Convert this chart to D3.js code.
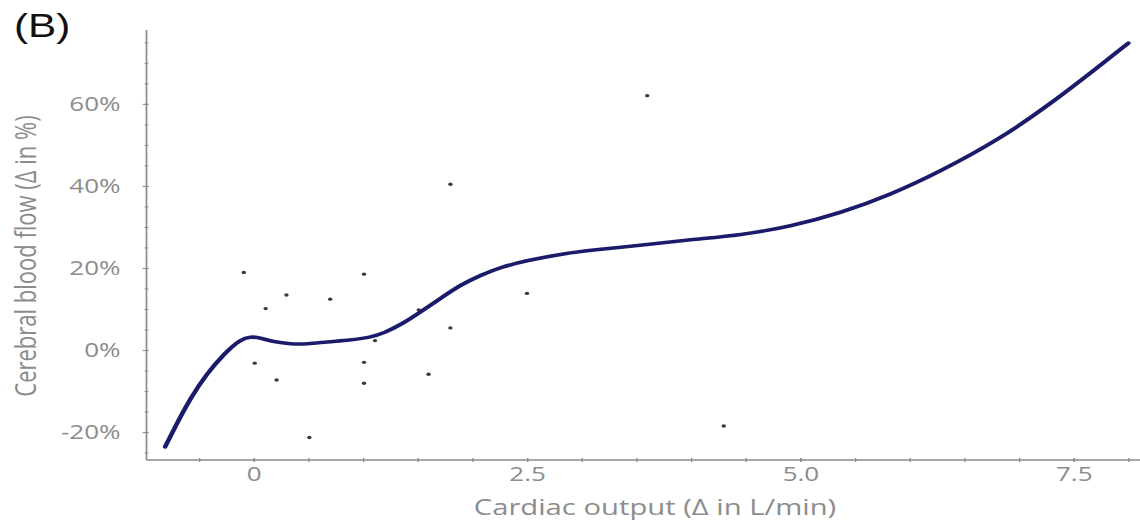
<!DOCTYPE html>
<html>
<head>
<meta charset="utf-8">
<script src="https://cdn.jsdelivr.net/npm/d3@7"></script>
<style>
  html, body { margin: 0; padding: 0; background: #fff; }
  svg { display: block; }
</style>
</head>
<body>
<svg id="chart" width="1140" height="523"></svg>
<script>
// ---- data ----
const panelLabel = "(B)";
const xTitle = "Cardiac output (\u0394 in L/min)";
const yTitle = "Cerebral blood flow (\u0394 in %)";

const xMajorTicks = [0, 2.5, 5.0, 7.5];
const xTickLabels = ["0", "2.5", "5.0", "7.5"];
const yMajorTicks = [-20, 0, 20, 40, 60];
const yTickLabels = ["-20%", "0%", "20%", "40%", "60%"];

// scatter observations (Δ cardiac output, Δ cerebral blood flow %)
const pointX = [-0.09, 1.01, 0.30, 0.11, 0.70, 1.11, 0.01, 0.21, 1.01, 1.01, 0.51, 1.51, 1.80, 2.50, 1.60, 4.30, 1.80, 3.60];
const pointY = [18.9, 18.5, 13.4, 10.1, 12.4, 2.3, -3.2, -7.3, -3.0, -8.1, -21.3, 9.8, 5.4, 13.8, -5.9, -18.5, 40.4, 62.0];

// fitted smooth curve
const curveX = [-0.81, -0.70, -0.58, -0.43, -0.26, -0.12, -0.03, 0.06, 0.18, 0.34, 0.49, 0.67, 0.88, 1.07, 1.19, 1.37, 1.53, 1.71, 1.89, 2.08, 2.26, 2.5, 2.81, 3.11, 3.42, 4.03, 4.45, 4.91, 5.37, 5.82, 6.28, 6.83, 7.29, 7.75, 8.0];
const curveY = [-23.6, -17.8, -11.8, -5.8, -0.6, 2.6, 3.3, 3.0, 2.0, 1.46, 1.46, 2.0, 2.4, 3.1, 4.1, 6.5, 9.35, 12.6, 15.85, 18.3, 20.2, 21.8, 23.4, 24.4, 25.2, 27.0, 28.0, 30.1, 33.4, 37.8, 43.5, 51.5, 60.0, 69.5, 74.8];

// ---- layout (the original figure is stretched horizontally) ----
const S = 1.3;                 // horizontal stretch
const W = 1140 / S, H = 523;
const svg = d3.select("#chart")
  .attr("viewBox", `0 0 ${W} ${H}`)
  .attr("preserveAspectRatio", "none");

const mLeft = 146.5 / S, mRight = 1139.2 / S;
const mTop = 30, mBottom = 460;

const x = d3.scaleLinear().domain([-0.98, 8.1]).range([mLeft, mRight]);
const y = d3.scaleLinear().domain([-26.8, 78]).range([mBottom, mTop]);

const axisColor = "#8a8a8a";
const textColor = "#8c8c8c";
const font = "'Open Sans', 'DejaVu Sans', sans-serif";

// ---- axes ----
const xAxis = svg.append("g").attr("transform", `translate(0,${mBottom})`)
  .call(d3.axisBottom(x).tickValues(xMajorTicks).tickFormat((d, i) => xTickLabels[i]).tickSize(3).tickPadding(4));
const xMinor = svg.append("g").attr("transform", `translate(0,${mBottom})`)
  .call(d3.axisBottom(x).tickValues(d3.range(-0.5, 8.01, 0.5)).tickFormat("").tickSize(2));
xMinor.select(".domain").remove();

const yAxis = svg.append("g").attr("transform", `translate(${mLeft},0)`)
  .call(d3.axisLeft(y).tickValues(yMajorTicks).tickFormat((d, i) => yTickLabels[i]).tickSize(3).tickPadding(17));
const yMinor = svg.append("g").attr("transform", `translate(${mLeft},0)`)
  .call(d3.axisLeft(y).tickValues(d3.range(-25, 76, 5)).tickFormat("").tickSize(2));
yMinor.select(".domain").remove();

xAxis.select(".domain").attr("stroke", axisColor).attr("stroke-width", 1.3).attr("d", `M${mLeft},0H${W}`);
yAxis.select(".domain").attr("stroke", axisColor).attr("stroke-width", 1.3).attr("d", `M0,${mTop}V${mBottom}`);
[xAxis, xMinor].forEach(g => g.selectAll(".tick line").attr("stroke", axisColor).attr("y1", -2).attr("y2", 2));
[yAxis, yMinor].forEach(g => g.selectAll(".tick line").attr("stroke", axisColor).attr("x1", 1.5));
yAxis.selectAll(".tick line").attr("x2", -3);
yMinor.selectAll(".tick line").attr("x2", -1.5);

xAxis.selectAll(".tick text").attr("fill", textColor).attr("font-family", font).attr("font-size", 20).attr("dy", "0.71em");
yAxis.selectAll(".tick text").attr("fill", textColor).attr("font-family", font).attr("font-size", 20);

// ---- titles ----
svg.append("text").attr("x", 655 / S).attr("y", 515)
  .attr("text-anchor", "middle").attr("fill", textColor)
  .attr("font-family", font).attr("font-size", 22.5).text(xTitle);

svg.append("text").attr("transform", `translate(${36 / S},${256}) rotate(-90)`)
  .attr("text-anchor", "middle").attr("fill", textColor)
  .attr("font-family", font).attr("font-size", 22).text(yTitle);

svg.append("text").attr("x", 14 / S).attr("y", 37)
  .attr("fill", "#111").attr("font-family", "'Liberation Sans', Arial, sans-serif")
  .attr("font-size", 32.5).text(panelLabel);

// ---- points ----
svg.append("g").selectAll("circle").data(pointX.map((v, i) => [v, pointY[i]]))
  .join("circle")
  .attr("cx", d => x(d[0])).attr("cy", d => y(d[1]))
  .attr("r", 1.7).attr("fill", "#3a3a3a");

// ---- fitted curve ----
const line = d3.line().x(d => x(d[0])).y(d => y(d[1])).curve(d3.curveBasis);
svg.append("path").datum(curveX.map((v, i) => [v, curveY[i]]))
  .attr("d", line).attr("fill", "none")
  .attr("stroke", "#1b1b6b").attr("stroke-width", 3.6)
  .attr("stroke-linecap", "round").attr("stroke-linejoin", "round");
</script>
</body>
</html>
